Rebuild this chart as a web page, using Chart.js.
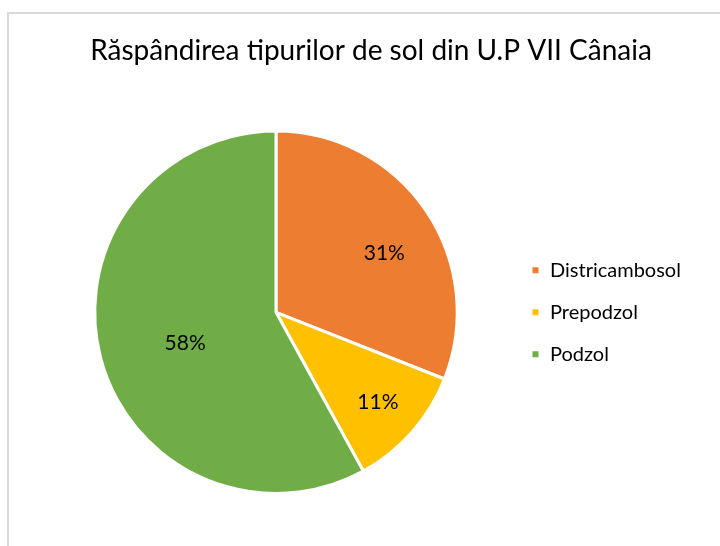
<!DOCTYPE html>
<html>
<head>
<meta charset="utf-8">
<script src="https://cdn.jsdelivr.net/npm/chart.js@4.4.1/dist/chart.umd.min.js"></script>
<style>
  html, body { margin: 0; padding: 0; background: #fff; }
  #wrap { position: relative; width: 720px; height: 546px; overflow: hidden; }
  #frame {
    position: absolute; left: 7px; top: 12px; width: 740px; height: 560px;
    border-left: 2px solid #d9d9d9; border-top: 2px solid #d9d9d9;
  }
  canvas { position: absolute; left: 0; top: 0; }
</style>
</head>
<body>
<div id="wrap">
  <div id="frame"></div>
  <canvas id="pie" width="720" height="546"></canvas>
</div>
<script>
// date
const titlu = 'Răspândirea tipurilor de sol din U.P VII Cânaia';
const tipuriSol = ['Districambosol', 'Prepodzol', 'Podzol'];
const procente = [31, 11, 58];
const culori = ['#ED7D31', '#FFC000', '#70AD47'];

const FONT = 'Lato';
const legendFont = 20;
const legendPad = 22;
const boxW = 9;
// legenda ocupa fix zona din dreapta plăcintei
const latimeLegenda = 190;

// etichete procentuale pe felii (poziție radială relativă)
const pozEticheta = [0.68, 0.75, 0.53];
const unghiEticheta = [0.1, 0, -0.08];

const legendaFixa = {
  id: 'legendaFixa',
  afterInit(chart) {
    const lg = chart.legend;
    const fit = lg.fit.bind(lg);
    lg.fit = function () { fit(); this.width = latimeLegenda; };
  }
};

const eticheteFelii = {
  id: 'eticheteFelii',
  afterDatasetsDraw(chart) {
    const ctx = chart.ctx;
    const meta = chart.getDatasetMeta(0);
    ctx.save();
    ctx.font = '21px ' + FONT;
    ctx.fillStyle = '#000';
    ctx.textAlign = 'center';
    ctx.textBaseline = 'middle';
    meta.data.forEach((arc, i) => {
      const p = arc.getProps(['x', 'y', 'startAngle', 'endAngle', 'outerRadius'], true);
      const a = (p.startAngle + p.endAngle) / 2 + unghiEticheta[i];
      const r = p.outerRadius * pozEticheta[i];
      ctx.fillText(procente[i] + '%', p.x + Math.cos(a) * r, p.y + Math.sin(a) * r);
    });
    ctx.restore();
  }
};

new Chart(document.getElementById('pie'), {
  type: 'pie',
  data: {
    labels: tipuriSol,
    datasets: [{
      data: procente,
      backgroundColor: culori,
      borderColor: '#ffffff',
      borderWidth: 3
    }]
  },
  options: {
    responsive: false,
    animation: false,
    layout: { padding: { left: 43, right: 21, top: 0, bottom: 51 } },
    plugins: {
      title: {
        display: true,
        text: titlu,
        color: '#000',
        font: { family: FONT, size: 28, weight: 'normal' },
        padding: { top: 34, bottom: 62 }
      },
      legend: {
        position: 'right',
        align: 'center',
        fullSize: false,
        labels: {
          color: '#000',
          font: { family: FONT, size: legendFont },
          boxWidth: boxW,
          boxHeight: boxW,
          padding: legendPad
        }
      },
      tooltip: { enabled: false }
    }
  },
  plugins: [legendaFixa, eticheteFelii]
});
</script>
</body>
</html>
